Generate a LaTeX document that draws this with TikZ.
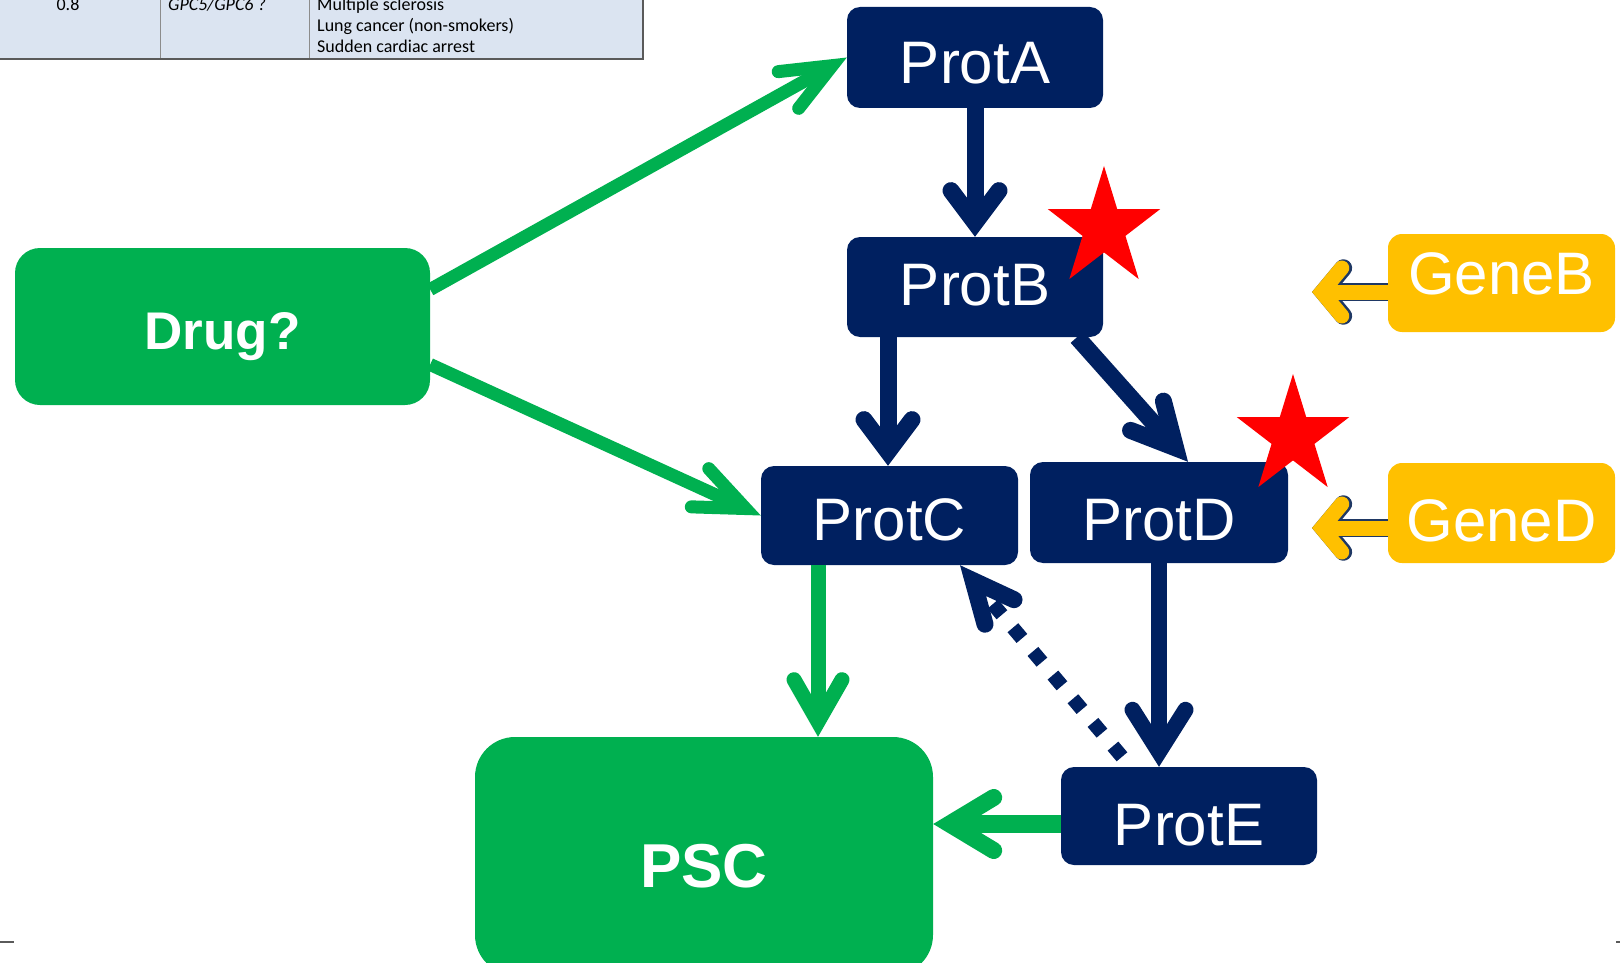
\documentclass[tikz,border=0pt]{standalone}
\usepackage{fontspec}
\setmainfont{Liberation Sans}
\newfontfamily\tablefont{Carlito}
\usetikzlibrary{arrows.meta}

\definecolor{navy}{HTML}{002060}
\definecolor{leaf}{HTML}{00B050}
\definecolor{amber}{HTML}{FFC000}
\definecolor{edgeblue}{HTML}{1F3864}
\definecolor{tablefill}{HTML}{DBE4F1}
\definecolor{rulegray}{HTML}{8C8C8C}
\definecolor{framegray}{HTML}{5A5A5A}

% Open chevron head: two thick strokes with round ends meeting in a sharp point
\pgfdeclarearrow{
  name = OpenChevron,
  parameters = {\the\pgfarrowlength,\the\pgfarrowwidth,\the\pgfarrowlinewidth},
  setup code = {
    \pgfmathsetlengthmacro\chevmiter{0.5*\pgfarrowlinewidth*veclen(\pgfarrowlength,0.5*\pgfarrowwidth)/(0.5*\pgfarrowwidth)}
    \pgfmathsetlengthmacro\chevback{-\pgfarrowlength-0.5*\pgfarrowlinewidth}
    \pgfarrowssettipend{\chevmiter}
    \pgfarrowssetbackend{\chevback}
    \pgfarrowssetlineend{0pt}
    \pgfarrowssavethe\pgfarrowlength
    \pgfarrowssavethe\pgfarrowwidth
    \pgfarrowssavethe\pgfarrowlinewidth
  },
  drawing code = {
    \pgfsetdash{}{+0pt}
    \pgfsetlinewidth{\pgfarrowlinewidth}
    \pgfsetroundcap
    \pgfsetmiterjoin
    \pgfpathmoveto{\pgfqpoint{-\pgfarrowlength}{0.5\pgfarrowwidth}}
    \pgfpathlineto{\pgfpointorigin}
    \pgfpathlineto{\pgfqpoint{-\pgfarrowlength}{-0.5\pgfarrowwidth}}
    \pgfusepathqstroke
  },
  defaults = {length = +34pt, width = +48pt, line width = +0pt 1 1}
}

\tikzset{
  box/.style={inner sep=0pt, text=white, text depth=6pt},
  capline/.style={text height=#1},
  protbox/.style={box, fill=navy, rounded corners=13pt, minimum width=256pt,
    minimum height=100pt, font=\fontsize{60pt}{72pt}\selectfont},
  genebox/.style={protbox, fill=amber, rounded corners=14pt, minimum width=227pt},
  greenbox/.style={box, fill=leaf},
  tabletext/.style={inner sep=0pt, text=black, font=\tablefont\fontsize{18pt}{21pt}\selectfont},
  navylink/.style={draw=navy, line width=17pt},
  greenlink/.style={draw=leaf, line width=13pt},
  dotlink/.style={draw=navy, line width=14pt, dash pattern=on 14pt off 17pt},
}

\begin{document}
\begin{tikzpicture}[x=1pt, y=-1pt]
\useasboundingbox (0,0) rectangle (1620,963);
\clip (0,0) rectangle (1620,963);

% ---- last row of the results table ----
\fill[tablefill] (0,0) rectangle (643,59);
\draw[rulegray, line width=1pt] (160,0) -- (160,59) (309,0) -- (309,59);
\draw[framegray, line width=1.5pt] (0,59) -- (643,59) -- (643,0);
\node[tabletext, anchor=base] (ratio) at (68,10.5) {0.8};
\node[tabletext, anchor=base west] (locus) at (168,10.5) {\itshape GPC5/GPC6 ?};
\node[tabletext, anchor=base west] (dis1) at (317,10.5) {Multiple sclerosis};
\node[tabletext, anchor=base west] (dis2) at (317,31.5) {Lung cancer (non-smokers)};
\node[tabletext, anchor=base west] (dis3) at (317,52.5) {Sudden cardiac arrest};

% page edge ticks
\draw[framegray, line width=2pt] (0,942) -- (14,942);
\draw[framegray, line width=2pt] (1616,942) -- (1620,942);

% ---- boxes ----
\node[protbox, capline=58pt, minimum height=101pt] (prota) at (975,57.5) {ProtA};
\node[protbox, capline=43pt] (protb) at (975,287) {ProtB};
\node[protbox, capline=56pt, minimum width=257pt, minimum height=99pt] (protc) at (889.5,515.5) {ProtC};
\node[protbox, capline=62pt, minimum width=258pt, minimum height=101pt] (protd) at (1159,512.5) {ProtD};
\node[protbox, capline=65pt, minimum height=98pt] (prote) at (1189,816) {ProtE};
\node[genebox, capline=29pt, minimum height=98pt] (geneb) at (1501.5,283) {GeneB};
\node[genebox, capline=63pt] (gened) at (1501.5,513) {GeneD};
\node[greenbox, capline=52pt, rounded corners=25pt, minimum width=415pt, minimum height=157pt,
  font=\fontsize{53pt}{64pt}\selectfont\bfseries] (drug) at (222.5,326.5) {Drug?};
\node[greenbox, capline=69pt, rounded corners=40pt, minimum width=458pt, minimum height=238pt,
  font=\fontsize{62pt}{74pt}\selectfont\bfseries] (psc) at (704,856) {PSC};

% free ends of the gene arrows
\coordinate (gbtip) at (1312,292);
\coordinate (gdtip) at (1312,528);

% ---- connectors ----
\draw[greenlink, -{OpenChevron[length=50pt,width=42pt,line width=13pt]}]
  ([yshift=37pt]drug.east) -- (prota.west);
\draw[greenlink, -{OpenChevron[length=50pt,width=42pt,line width=13pt]}]
  ([yshift=-38pt]drug.east) -- (protc.west);

\draw[navylink, -{OpenChevron[length=32pt,width=48pt,line width=17pt]}]
  (prota) -- (protb);
\draw[navylink, -{OpenChevron[length=32pt,width=48pt,line width=17pt]}]
  ([xshift=-87pt]protb.south) -- ([xshift=-1.5pt]protc.north);
\draw[navylink, -{OpenChevron[length=43pt,width=44pt,line width=17pt]}]
  ([xshift=102pt]protb.south) -- ([xshift=29pt]protd.north);
\draw[navylink, line width=16pt, -{OpenChevron[length=42pt,width=53pt,line width=16pt]}]
  (protd.south) -- ([xshift=-30pt]prote.north);

\draw[dotlink, -{OpenChevron[length=41pt,width=38pt,line width=17pt]}]
  ([xshift=-67pt,yshift=10pt]prote.north) -- ([xshift=70.5pt]protc.south);

\draw[greenlink, line width=15pt, -{OpenChevron[length=42pt,width=48pt,line width=15pt]}]
  ([xshift=-71.5pt]protc.south) -- ([xshift=114pt]psc.north);
\draw[greenlink, line width=18pt, -{OpenChevron[length=44pt,width=53pt,line width=17pt]}]
  ([yshift=-8pt]prote.west) -- ([yshift=32pt]psc.east);

% outlined yellow arrows from the genes
\foreach \src/\dy/\dst in {geneb/-9pt/gbtip, gened/-15pt/gdtip}{
  \draw[draw=edgeblue, line width=17.5pt, -{OpenChevron[length=20pt,width=48pt,line width=17.5pt]}]
    ([yshift=\dy]\src.west) -- (\dst);
  \draw[draw=amber, line width=15pt, -{OpenChevron[length=20pt,width=48pt,line width=15pt]}]
    ([yshift=\dy]\src.west) -- (\dst);
}

% ---- red stars ----
\foreach \cx/\cy in {1104/228.5, 1293/436.5}{
  \begin{scope}[shift={(\cx,\cy)}, x=59pt, y=62.5pt]
    \fill[red] (90:1) -- (126:0.382) -- (162:1) -- (198:0.382) -- (234:1) -- (270:0.382)
      -- (306:1) -- (342:0.382) -- (18:1) -- (54:0.382) -- cycle;
  \end{scope}
}
\end{tikzpicture}
\end{document}
